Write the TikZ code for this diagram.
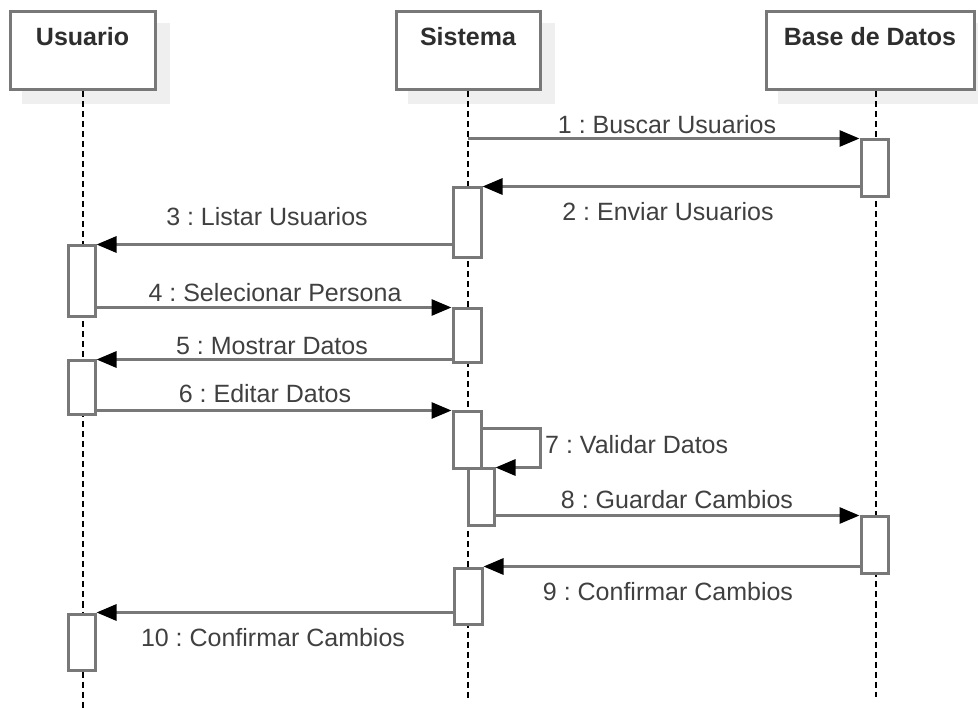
\documentclass[tikz,border=0pt]{standalone}
\usepackage{fontspec}
\setmainfont{Liberation Sans}
\frenchspacing
\usetikzlibrary{arrows.meta,backgrounds}
\definecolor{linec}{HTML}{787878}
\definecolor{txtc}{HTML}{404040}
\definecolor{hdrc}{HTML}{2E2E2E}
\definecolor{shadc}{HTML}{EFEFEF}
\tikzset{
  hdr/.style={draw=linec, line width=3pt, fill=white, inner xsep=0pt, inner ysep=10pt,
    text height=24pt, text depth=34pt, font=\bfseries\fontsize{25}{30}\selectfont, text=hdrc},
  act/.style={draw=linec, line width=3pt, fill=white, inner sep=0pt, minimum width=27pt},
  msg/.style={draw=linec, line width=3pt, -{Triangle[length=20pt,width=16pt,color=black]}},
  life/.style={draw=black, line width=1.6pt, dash pattern=on 6pt off 4pt},
  lbl/.style={font=\fontsize{25}{30}\selectfont, text=txtc, inner sep=0pt},
}
\begin{document}
\begin{tikzpicture}[x=1pt,y=-1pt]
\useasboundingbox (0,0) rectangle (978,708);
% headers
\node[hdr, minimum width=145pt] (usr) at (82.5,51) {Usuario};
\node[hdr, minimum width=144pt] (sis) at (468,51) {Sistema};
\node[hdr, minimum width=208pt] (bd) at (870,51) {Base de Datos};
% shadows behind headers
\begin{scope}[on background layer]
\foreach \n in {usr,sis,bd}{
  \fill[shadc] ([xshift=13pt,yshift=-13pt]\n.north west) rectangle ([xshift=13pt,yshift=-13pt]\n.south east);
}
\end{scope}
% lifeline ends
\coordinate (uend) at (83,708);
\coordinate (send) at (468,698);
\coordinate (bend) at (876,697);
% lifelines
\draw[life] (uend |- usr.south) -- (uend);
\draw[life] (send |- sis.south) -- (send);
\draw[life] (bend |- bd.south) -- (bend);
% activations
\node[act, minimum height=71pt] (u1) at (81.5,281.5) {};
\node[act, minimum height=54pt] (u2) at (81.5,388) {};
\node[act, minimum height=56pt] (u3) at (81.5,642) {};
\node[act, minimum width=28pt, minimum height=70pt] (s1) at (467,223) {};
\node[act, minimum width=28pt, minimum height=54pt] (s2) at (467,336) {};
\node[act, minimum width=28pt, minimum height=57pt] (s3) at (467,440.5) {};
\node[act, minimum width=26pt, minimum height=57pt] (s3b) at (481,497.5) {};
\node[act, minimum width=28pt, minimum height=56pt] (s4) at (468,596) {};
\node[act, minimum height=57pt] (b1) at (874.5,168.5) {};
\node[act, minimum height=56pt] (b2) at (874.5,545) {};
\coordinate (v7) at (540,429);
% messages
\draw[msg] (send |- b1.north) -- (b1.north west);
\draw[msg] (b1.west |- s1.north) -- (s1.north east);
\draw[msg] (s1.west |- u1.north) -- (u1.north east);
\draw[msg] (u1.east |- s2.north) -- (s2.north west);
\draw[msg] (s2.west |- u2.north) -- (u2.north east);
\draw[msg] (u2.east |- s3.north) -- (s3.north west);
\draw[msg] (s3.east |- v7) -- (v7) |- (s3b.north east);
\draw[msg] (s3b.east |- b2.north) -- (b2.north west);
\draw[msg] (b2.west |- s4.north) -- (s4.north east);
\draw[msg] (s4.west |- u3.north) -- (u3.north east);
% labels
\node[lbl] (l1) at (667,125) {1 : Buscar Usuarios};
\node[lbl] (l2) at (668,212) {2 : Enviar Usuarios};
\node[lbl] (l3) at (267,217) {3 : Listar Usuarios};
\node[lbl] (l4) at (275,293) {4 : Selecionar Persona};
\node[lbl] (l5) at (272,346) {5 : Mostrar Datos};
\node[lbl] (l6) at (265,394) {6 : Editar Datos};
\node[lbl, anchor=west] (l7) at (545,445) {7 : Validar Datos};
\node[lbl] (l8) at (677,500) {8 : Guardar Cambios};
\node[lbl] (l9) at (668,592) {9 : Confirmar Cambios};
\node[lbl] (l10) at (273,638) {10 : Confirmar Cambios};
\end{tikzpicture}
\end{document}
